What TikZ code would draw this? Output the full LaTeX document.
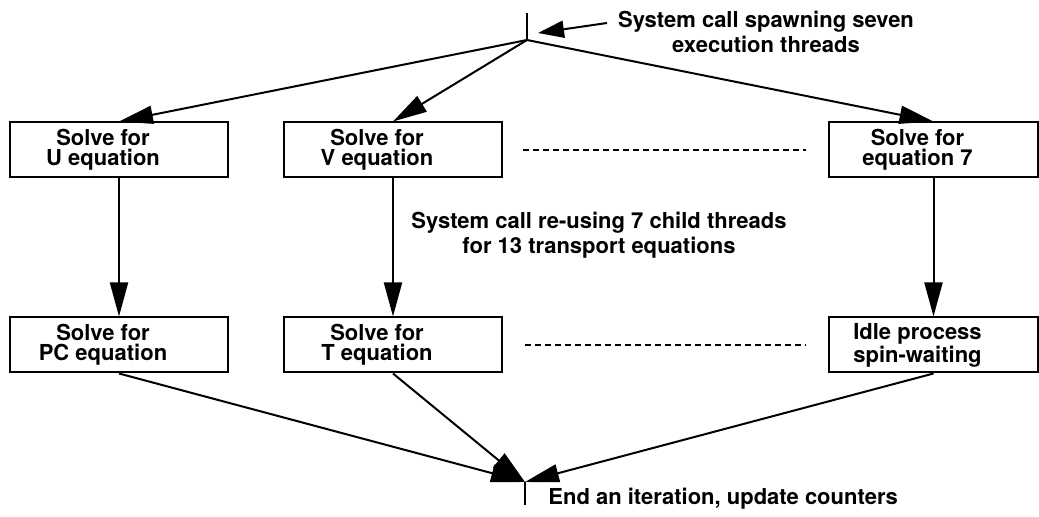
\documentclass[tikz,border=0pt]{standalone}
\usepackage{fontspec}
\setmainfont{TeX Gyre Heros}
\usetikzlibrary{arrows.meta,positioning}
\newcommand{\boxfont}{\fontsize{11}{9.8}\selectfont\bfseries}
\newcommand{\descrfont}{\fontsize{11}{12.7}\selectfont\bfseries}
% box text sits a little left of the box centre
\newcommand{\boxtext}[2]{#1\kern16pt\\#2\kern16pt}
\tikzset{
	task/.style={
		rectangle,
		draw,
		line width=1pt,
		minimum width=109pt,
		minimum height=27.5pt,
		inner sep=0pt,
		align=center,
		font=\boxfont,
	},
	tasknarrow/.style={
		task,
		minimum width=104.5pt,
	},
	descr/.style={
		inner sep=0pt,
		align=center,
		font=\descrfont,
	},
	arc/.style={
		-{Triangle[length=17pt,width=9pt]},
		line width=1pt,
	},
	pointer/.style={
		-{Triangle[length=13pt,width=8.5pt]},
		line width=1pt,
	},
	tick/.style={
		line width=1pt,
	},
	dots/.style={
		dash pattern=on 3pt off 2pt,
		line width=0.7pt,
	},
}
\begin{document}
\begin{tikzpicture}[x=0.5pt,y=-0.5pt,node distance=69pt and 27pt]
	\useasboundingbox (0,0) rectangle (1039,517);

	\coordinate (forktop) at (527,13);
	\coordinate (fork) at (527,40);

	\node [task] (u) at (119,150) {\boxtext{Solve for}{U equation}};
	\node [
	  task,
	  right=of u
	] (v) {\boxtext{Solve for}{V equation}};
	\node [
	  tasknarrow,
	  right=162.5pt of v
	] (eq7) {\boxtext{Solve for}{equation 7}};

	\node [
	  task,
	  below=of u
	] (pc) {\boxtext{Solve for}{PC equation}};
	\node [
	  task,
	  below=of v
	] (t) {\boxtext{Solve for}{T equation}};
	\node [
	  tasknarrow,
	  below=of eq7
	] (idle) {\boxtext{Idle process}{spin-waiting}};

	\coordinate (join) at (525,482);
	\coordinate (jointail) at (525,505);

	\node [descr] (spawn) at (766,32) {System call spawning seven\\execution threads};
	\node [descr] (reuse) at (599,235) {System call re-using 7 child threads\\for 13 transport equations};
	\node [descr, anchor=base west] (iter) at (548,505) {End an iteration, update counters};

	\coordinate (callfrom) at (607,23);
	\coordinate (callto) at (538,33);

	\draw[tick] (forktop) -- (fork);
	\draw[pointer] (callfrom) -- (callto);

	\draw[arc] (fork) -- (u.north);
	\draw[arc] (fork) -- (v.north);
	\draw[arc] (fork) -- (eq7.north);

	\draw[arc] (u) -- (pc);
	\draw[arc] (v) -- (t);
	\draw[arc] (eq7) -- (idle);

	\draw[dots,shorten <=10pt,shorten >=11pt] (v) -- (eq7);
	\draw[dots,shorten <=11pt,shorten >=11pt] (t) -- (idle);

	\draw[arc] (pc.south) -- (join);
	\draw[arc] (t.south) -- (join);
	\draw[arc] (idle.south) -- (join);
	\draw[tick] (join) -- (jointail);

\end{tikzpicture}
\end{document}
